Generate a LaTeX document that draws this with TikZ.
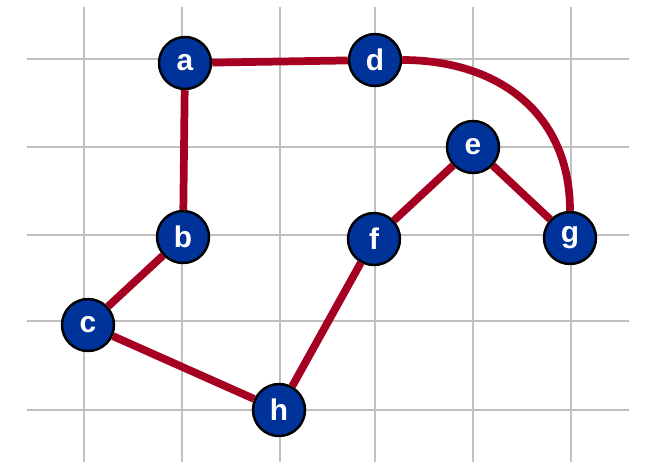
\documentclass[tikz,border=0pt]{standalone}
\usepackage{fontspec}
\setmainfont{Liberation Sans}
\usepackage{xcolor}
\usetikzlibrary{positioning}

\definecolor{gridgray}{RGB}{192,192,192}
\definecolor{edgered}{RGB}{165,0,33}
\definecolor{nodeblue}{RGB}{0,51,153}

\begin{document}
\begin{tikzpicture}[
    x=0.02cm, y=-0.02cm,
    vertex/.style={draw=black, line width=1.4pt, circle, fill=nodeblue,
                   minimum size=1.04cm, inner sep=0pt, text=white,
                   font=\fontsize{17}{17}\selectfont\bfseries},
    gridline/.style={gridgray, line width=1.6pt},
    edge/.style={edgered, line width=4.4pt}
]
\useasboundingbox (0,0) rectangle (652,468);

% ====================== GRID ======================
\foreach \gx in {84,182,280,375,473,571}
    \draw[gridline] (\gx,7) -- (\gx,462);
\foreach \gy in {59,147,235,321,410}
    \draw[gridline] (27,\gy) -- (629,\gy);

% ====================== VERTICES ======================
\node[vertex] (a) at (185,63)  {a};
\node[vertex] (d) at (375,60)  {d};
\node[vertex] (e) at (473,147) {e};
\node[vertex] (b) at (183,237) {b};
\node[vertex] (f) at (374,239) {f};
\node[vertex] (g) at (570,238) {g};
\node[vertex] (c) at (88,325)  {c};
\node[vertex] (h) at (279,410) {h};

% ====================== EDGES ======================
\draw[edge] (a) -- (d);
\draw[edge] (a) -- (b);
\draw[edge] (b) -- (c);
\draw[edge] (c) -- (h);
\draw[edge] (h) -- (f);
\draw[edge] (f) -- (e);
\draw[edge] (e) -- (g);
\draw[edge] (d) to[out=0, in=90, looseness=1.1] (g);

\end{tikzpicture}
\end{document}
